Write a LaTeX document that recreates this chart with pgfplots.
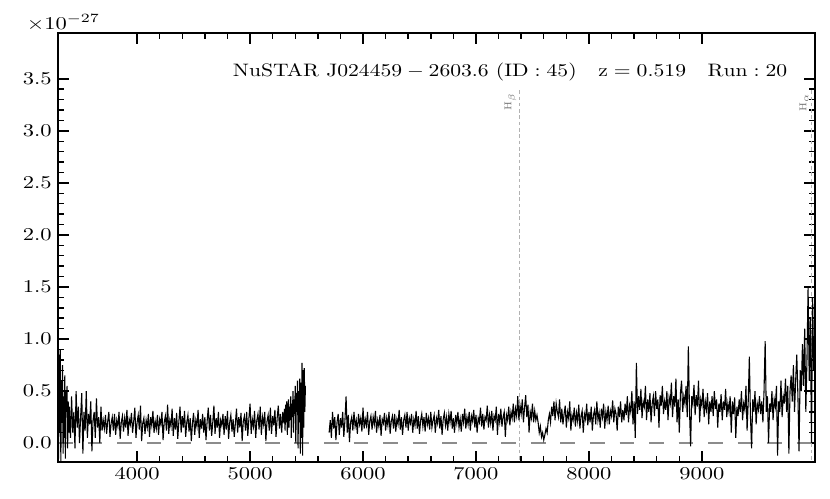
\documentclass[border=0pt]{standalone}
\usepackage{pgfplots}
\usepackage{graphicx}
\pgfplotsset{compat=1.18}
\newcommand{\wide}[1]{\scalebox{1.25}[1]{#1}}
\begin{document}
\begin{tikzpicture}
\begin{axis}[
  scale only axis,
  width=420pt, height=238pt,
  xmin=3300, xmax=10000,
  ymin=-0.18, ymax=3.94,
  xtick={4000,5000,6000,7000,8000,9000},
  ytick={0,0.5,1,1.5,2,2.5,3,3.5},
  scaled x ticks=false,
  scaled y ticks=false,
  minor x tick num=4,
  minor y tick num=4,
  tick align=inside,
  major tick length=6pt,
  minor tick length=3.5pt,
  axis line style={line width=1pt},
  every major tick/.append style={line width=1pt, black},
  every minor tick/.append style={line width=0.8pt, black},
  xticklabel={\wide{$\pgfmathprintnumber[1000 sep={}]{\tick}$}},
  yticklabel={\wide{$\pgfmathprintnumber[fixed,fixed zerofill,precision=1]{\tick}$}},
  clip mode=individual,
]
% zero level
\addplot[gray!90, line width=1.1pt, dash pattern=on 8.2pt off 8.2pt] coordinates {(3300,0) (10000,0)};
% line markers
\addplot[black!30, line width=0.5pt, dash pattern=on 2pt off 1.5pt] coordinates {(7384,3.39) (7384,-0.18)};
\addplot[black!30, line width=0.5pt, dash pattern=on 2pt off 1.5pt] coordinates {(9969,3.39) (9969,-0.18)};
% spectrum, blue side
\addplot[black, line width=0.6pt] coordinates {
(3300,0.55) (3305,-0.15) (3310,0.85) (3315,0.1) (3320,0.9) (3325,-0.2) (3330,0.6) (3335,0.2) (3340,0.75) (3345,-0.1)
(3350,0.45) (3355,0.05) (3360,0.65) (3365,-0.15) (3370,0.5) (3375,0.3) (3380,0.55) (3385,-0.05) (3390,0.4) (3395,0.1)
(3400,0.35) (3410,0.05) (3420,0.45) (3430,0.1) (3440,0.3) (3450,-0.05) (3460,0.5) (3470,0.15) (3480,0.35) (3490,0.0)
(3500,0.25) (3510,0.48) (3520,-0.1) (3530,0.3) (3540,0.12) (3550,0.5) (3560,0.05) (3570,0.28) (3580,0.18) (3590,0.4)
(3600,-0.08) (3610,0.22) (3620,0.3) (3630,0.05) (3640,0.43) (3650,0.15) (3660,0.25) (3670,0.0) (3680,0.35) (3690,0.12)
(3700,0.22) (3710,0.14) (3720,0.27) (3730,0.09) (3740,0.21) (3750,0.3) (3760,0.06) (3770,0.19) (3780,0.25) (3790,0.12)
(3800,0.28) (3810,0.08) (3820,0.22) (3830,0.16) (3840,0.3) (3850,0.04) (3860,0.2) (3870,0.26) (3880,0.11) (3890,0.24)
(3900,0.15) (3910,0.32) (3920,0.07) (3930,0.23) (3940,0.18) (3950,0.29) (3960,0.1) (3970,0.21) (3980,0.34) (3990,0.05)
(4000,0.2) (4010,0.27) (4020,0.13) (4030,0.36) (4040,0.02) (4050,0.19) (4060,0.24) (4070,0.09) (4080,0.22) (4090,0.15)
(4100,0.28) (4110,0.06) (4120,0.25) (4130,0.17) (4140,0.31) (4150,0.1) (4160,0.21) (4170,0.14) (4180,0.27) (4190,0.08)
(4200,0.23) (4210,0.18) (4220,0.3) (4230,0.03) (4240,0.2) (4250,0.26) (4260,0.12) (4270,0.37) (4280,0.09) (4290,0.22)
(4300,0.16) (4310,0.33) (4320,0.07) (4330,0.24) (4340,0.13) (4350,0.29) (4360,0.04) (4370,0.21) (4380,0.35) (4390,0.1)
(4400,0.26) (4410,0.15) (4420,0.31) (4430,0.06) (4440,0.2) (4450,0.27) (4460,0.11) (4470,0.24) (4480,0.02) (4490,0.19)
(4500,0.29) (4510,0.08) (4520,0.22) (4530,0.16) (4540,0.32) (4550,0.05) (4560,0.23) (4570,0.14) (4580,0.28) (4590,0.1)
(4600,0.25) (4610,0.03) (4620,0.21) (4630,0.34) (4640,0.12) (4650,0.27) (4660,0.07) (4670,0.2) (4680,0.36) (4690,0.09)
(4700,0.24) (4710,0.15) (4720,0.3) (4730,0.05) (4740,0.22) (4750,0.17) (4760,0.28) (4770,0.08) (4780,0.26) (4790,0.13)
(4800,0.31) (4810,0.04) (4820,0.2) (4830,0.27) (4840,0.11) (4850,0.23) (4860,0.06) (4870,0.19) (4880,0.33) (4890,0.1)
(4900,0.25) (4910,0.15) (4920,0.29) (4930,0.02) (4940,0.21) (4950,0.26) (4960,0.12) (4970,0.3) (4980,0.07) (4990,0.24)
(5000,0.38) (5010,0.09) (5020,0.23) (5030,0.16) (5040,0.31) (5050,0.05) (5060,0.22) (5070,0.28) (5080,0.13) (5090,0.35)
(5100,0.08) (5110,0.25) (5120,0.18) (5130,0.3) (5140,0.02) (5150,0.21) (5160,0.27) (5170,0.12) (5180,0.34) (5190,0.09)
(5200,0.26) (5210,0.17) (5220,0.32) (5230,0.06) (5240,0.24) (5250,0.36) (5260,0.14) (5270,0.28) (5280,0.1) (5290,0.3)
(5300,0.19) (5305,0.33) (5310,0.12) (5315,0.37) (5320,0.2) (5325,0.4) (5330,0.08) (5335,0.3) (5340,0.42) (5345,0.15)
(5350,0.35) (5355,0.22) (5360,0.45) (5365,0.05) (5370,0.38) (5375,0.25) (5380,0.5) (5385,0.1) (5390,0.42) (5395,0.28)
(5400,0.55) (5405,0.0) (5410,0.48) (5415,0.3) (5420,0.6) (5425,-0.05) (5430,0.5) (5435,0.2) (5440,0.62) (5445,-0.1)
(5450,0.58) (5455,0.05) (5460,0.77) (5465,-0.12) (5470,0.7) (5475,0.15) (5480,0.72) (5485,0.3) (5490,0.55)
};
% spectrum, red side
\addplot[black, line width=0.6pt] coordinates {
(5700,0.1) (5710,0.22) (5720,0.05) (5730,0.3) (5740,0.14) (5750,0.25) (5760,0.03) (5770,0.2) (5780,0.28) (5790,0.08)
(5800,0.24) (5810,0.15) (5820,0.3) (5830,0.06) (5840,0.22) (5850,0.45) (5860,0.1) (5870,0.27) (5880,0.01) (5890,0.2)
(5900,0.25) (5910,0.12) (5920,0.3) (5930,0.16) (5940,0.22) (5950,0.09) (5960,0.28) (5970,0.18) (5980,0.24) (5990,0.11)
(6000,0.34) (6010,0.14) (6020,0.23) (6030,0.17) (6040,0.3) (6050,0.08) (6060,0.21) (6070,0.26) (6080,0.13) (6090,0.25)
(6100,0.18) (6110,0.31) (6120,0.1) (6130,0.22) (6140,0.16) (6150,0.27) (6160,0.07) (6170,0.23) (6180,0.19) (6190,0.29)
(6200,0.12) (6210,0.24) (6220,0.17) (6230,0.3) (6240,0.09) (6250,0.21) (6260,0.26) (6270,0.14) (6280,0.28) (6290,0.11)
(6300,0.23) (6310,0.18) (6320,0.32) (6330,0.13) (6340,0.25) (6350,0.08) (6360,0.22) (6370,0.27) (6380,0.15) (6390,0.3)
(6400,0.12) (6410,0.24) (6420,0.19) (6430,0.28) (6440,0.1) (6450,0.23) (6460,0.17) (6470,0.31) (6480,0.14) (6490,0.26)
(6500,0.09) (6510,0.22) (6520,0.28) (6530,0.16) (6540,0.25) (6550,0.11) (6560,0.29) (6570,0.18) (6580,0.24) (6590,0.13)
(6600,0.3) (6610,0.15) (6620,0.22) (6630,0.27) (6640,0.1) (6650,0.24) (6660,0.19) (6670,0.32) (6680,0.14) (6690,0.26)
(6700,0.08) (6710,0.23) (6720,0.29) (6730,0.17) (6740,0.25) (6750,0.12) (6760,0.28) (6770,0.2) (6780,0.31) (6790,0.14)
(6800,0.24) (6810,0.1) (6820,0.27) (6830,0.19) (6840,0.3) (6850,0.15) (6860,0.23) (6870,0.11) (6880,0.28) (6890,0.2)
(6900,0.33) (6910,0.14) (6920,0.25) (6930,0.18) (6940,0.3) (6950,0.12) (6960,0.26) (6970,0.21) (6980,0.32) (6990,0.15)
(7000,0.27) (7010,0.1) (7020,0.24) (7030,0.2) (7040,0.34) (7050,0.16) (7060,0.28) (7070,0.13) (7080,0.25) (7090,0.22)
(7100,0.36) (7110,0.15) (7120,0.27) (7130,0.19) (7140,0.31) (7150,0.12) (7160,0.26) (7170,0.22) (7180,0.35) (7190,0.08)
(7200,0.28) (7210,0.2) (7220,0.33) (7230,0.16) (7240,0.25) (7250,0.3) (7260,0.06) (7270,0.27) (7280,0.22) (7290,0.35)
(7300,0.17) (7310,0.3) (7320,0.24) (7330,0.38) (7340,0.2) (7350,0.33) (7360,0.26) (7370,0.45) (7380,0.22) (7390,0.36)
(7400,0.28) (7410,0.42) (7420,0.2) (7430,0.34) (7440,0.46) (7450,0.25) (7460,0.37) (7470,0.1) (7480,0.3) (7490,0.24)
(7500,0.38) (7510,0.2) (7520,0.31) (7530,0.22) (7540,0.27) (7550,0.2) (7560,0.1) (7570,0.16) (7580,0.06) (7590,0.1)
(7600,0.03) (7610,0.08) (7620,0.14) (7630,0.1) (7640,0.22) (7650,0.28) (7660,0.2) (7670,0.35) (7680,0.26) (7690,0.4)
(7700,0.22) (7710,0.38) (7720,0.3) (7730,0.25) (7740,0.42) (7750,0.2) (7760,0.33) (7770,0.18) (7780,0.28) (7790,0.36)
(7800,0.15) (7810,0.3) (7820,0.24) (7830,0.4) (7840,0.12) (7850,0.27) (7860,0.22) (7870,0.34) (7880,0.16) (7890,0.29)
(7900,0.21) (7910,0.37) (7920,0.14) (7930,0.26) (7940,0.31) (7950,0.1) (7960,0.28) (7970,0.23) (7980,0.38) (7990,0.17)
(8000,0.3) (8010,0.2) (8020,0.35) (8030,0.12) (8040,0.27) (8050,0.32) (8060,0.18) (8070,0.4) (8080,0.22) (8090,0.29)
(8100,0.15) (8110,0.33) (8120,0.25) (8130,0.38) (8140,0.14) (8150,0.3) (8160,0.22) (8170,0.36) (8180,0.18) (8190,0.31)
(8200,0.26) (8210,0.41) (8220,0.2) (8230,0.33) (8240,0.28) (8250,0.12) (8260,0.35) (8270,0.25) (8280,0.4) (8290,0.2)
(8300,0.32) (8310,0.22) (8320,0.38) (8330,0.27) (8340,0.45) (8350,0.2) (8360,0.36) (8370,0.3) (8380,0.5) (8390,0.18)
(8400,0.4) (8410,0.05) (8420,0.77) (8430,0.28) (8440,0.45) (8450,0.32) (8460,0.52) (8470,0.24) (8480,0.4) (8490,0.35)
(8500,0.55) (8510,0.22) (8520,0.42) (8530,0.3) (8540,0.48) (8550,0.2) (8560,0.38) (8570,0.45) (8580,0.26) (8590,0.5)
(8600,0.33) (8610,0.42) (8620,0.15) (8630,0.46) (8640,0.36) (8650,0.55) (8660,0.28) (8670,0.4) (8680,0.32) (8690,0.5)
(8700,0.22) (8710,0.44) (8720,0.38) (8730,0.58) (8740,0.25) (8750,0.45) (8760,0.35) (8770,0.62) (8780,0.2) (8790,0.42)
(8800,0.1) (8810,0.48) (8820,0.6) (8830,0.3) (8840,0.45) (8850,0.38) (8860,0.55) (8870,0.25) (8880,0.93) (8890,0.32)
(8900,-0.03) (8910,0.45) (8920,0.38) (8930,0.56) (8940,0.27) (8950,0.46) (8960,0.35) (8970,0.6) (8980,0.2) (8990,0.42)
(9000,0.36) (9010,0.52) (9020,0.25) (9030,0.4) (9040,0.32) (9050,0.48) (9060,0.18) (9070,0.4) (9080,0.3) (9090,0.45)
(9100,0.26) (9110,0.5) (9120,0.33) (9130,0.42) (9140,0.15) (9150,0.38) (9160,0.3) (9170,0.47) (9180,0.22) (9190,0.4)
(9200,0.32) (9210,0.52) (9220,0.25) (9230,0.38) (9240,0.3) (9250,0.45) (9260,0.1) (9270,0.4) (9280,0.28) (9290,0.44)
(9300,0.05) (9310,0.35) (9320,0.26) (9330,0.42) (9340,0.3) (9350,0.5) (9360,0.22) (9370,0.38) (9380,0.32) (9390,0.55)
(9400,0.12) (9410,0.4) (9420,0.83) (9430,0.25) (9440,-0.05) (9450,0.42) (9460,0.3) (9470,0.5) (9480,0.18) (9490,0.38)
(9500,0.32) (9510,0.45) (9520,0.28) (9530,0.4) (9540,0.2) (9550,0.5) (9560,0.98) (9570,0.3) (9580,0.45) (9590,0.0)
(9600,0.38) (9610,0.3) (9620,0.5) (9630,0.22) (9640,0.42) (9650,0.35) (9660,0.55) (9670,-0.12) (9680,0.4) (9690,0.3)
(9700,0.6) (9710,0.25) (9720,0.45) (9730,0.38) (9740,0.62) (9750,0.3) (9760,0.55) (9770,-0.1) (9780,0.5) (9790,0.65)
(9800,0.4) (9810,0.75) (9820,0.3) (9830,0.6) (9840,0.85) (9850,0.45) (9860,-0.08) (9870,0.7) (9880,0.5) (9890,0.95)
(9900,0.55) (9910,1.1) (9920,0.3) (9930,0.8) (9940,1.5) (9950,0.6) (9960,1.2) (9970,0.0) (9980,1.4) (9990,0.7)
(10000,1.0)
};
\node[anchor=south east, rotate=90, inner sep=1.5pt, text=black!55, font=\fontsize{5.5}{6}\selectfont] at (axis cs:7384,3.39) {H$_\beta$};
\node[anchor=south east, rotate=90, inner sep=1.5pt, text=black!55, font=\fontsize{5.5}{6}\selectfont] at (axis cs:9969,3.39) {H$_\alpha$};
\node[anchor=east] at (rel axis cs:0.972,0.909) {\scalebox{1.2}[1]{$\mathrm{NuSTAR\ J024459-2603.6\ (ID:45)\quad z=0.519\quad Run:20}$}};
\node[anchor=south, inner sep=1pt] at ([xshift=3pt]rel axis cs:0,1) {\wide{$\times10^{-27}$}};
\coordinate (ll) at (rel axis cs:0,0);
\coordinate (ur) at (rel axis cs:1,1);
\end{axis}
\pgfresetboundingbox
\path[use as bounding box] ([shift={(-32.2pt,-20.1pt)}]ll) rectangle ([shift={(8.4pt,18.3pt)}]ur);
\end{tikzpicture}
\end{document}
